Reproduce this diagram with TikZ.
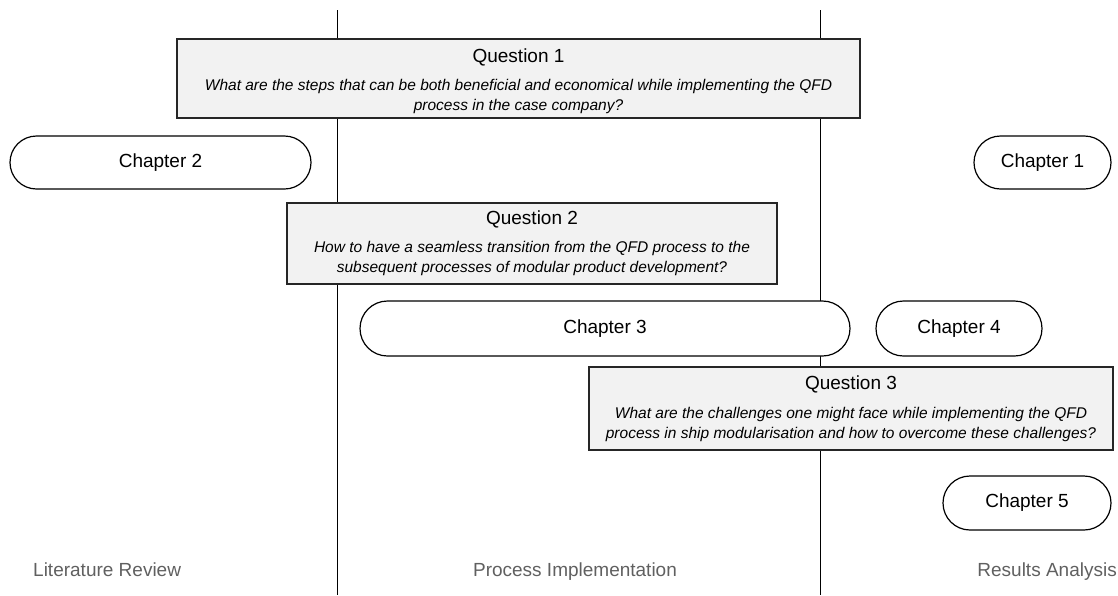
\documentclass[tikz,border=0pt]{standalone}
\usepackage{fontspec}
\setmainfont{Liberation Sans}
\usetikzlibrary{shapes.misc}
\definecolor{boxfill}{HTML}{F2F2F2}
\definecolor{phasegray}{HTML}{606060}
\tikzset{
  divider/.style={draw=black, line width=1pt},
  qbox/.style={draw=black!85, fill=boxfill, line width=1.2pt, rectangle, inner sep=0pt},
  qhead/.style={font=\fontsize{19}{22}\selectfont, inner sep=0pt},
  qtext/.style={font=\fontsize{15.5}{20}\selectfont\itshape, align=center, inner sep=0pt},
  chapter/.style={draw=black, fill=white, line width=1.2pt, rounded rectangle, inner sep=0pt,
                  font=\fontsize{19}{22}\selectfont},
  phase/.style={text=phasegray, font=\fontsize{19}{22}\selectfont, inner sep=0pt}
}
\begin{document}
\begin{tikzpicture}[x=1pt, y=-1pt]
\useasboundingbox (0,0) rectangle (1118,595);
% phase dividers
\coordinate (d1top) at (337,10);
\coordinate (d1bot) at (337,595);
\coordinate (d2top) at (820,10);
\coordinate (d2bot) at (820,595);
\draw[divider] (d1top) -- (d1bot);
\draw[divider] (d2top) -- (d2bot);

% research questions
\node[qbox, minimum width=683pt, minimum height=79pt] (q1) at (518.5,78.5) {};
\node[qhead] (q1h) at (518.5,57) {Question 1};
\node[qtext] (q1t) at (518.5,96) {What are the steps that can be both beneficial and economical while implementing the QFD\\process in the case company?};

\node[qbox, minimum width=490pt, minimum height=81pt] (q2) at (532,243.5) {};
\node[qhead] (q2h) at (532,219) {Question 2};
\node[qtext] (q2t) at (532,258) {How to have a seamless transition from the QFD process to the\\subsequent processes of modular product development?};

\node[qbox, minimum width=524pt, minimum height=83pt] (q3) at (851,408.5) {};
\node[qhead] (q3h) at (851,384) {Question 3};
\node[qtext] (q3t) at (851,424) {What are the challenges one might face while implementing the QFD\\process in ship modularisation and how to overcome these challenges?};

% chapters
\node[chapter, minimum width=301pt, minimum height=53pt] (ch2) at (160.5,162.5) {Chapter 2};
\node[chapter, minimum width=137pt, minimum height=53pt] (ch1) at (1042.5,162.5) {Chapter 1};
\node[chapter, minimum width=490pt, minimum height=55pt] (ch3) at (605,328.5) {Chapter 3};
\node[chapter, minimum width=166pt, minimum height=55pt] (ch4) at (959,328.5) {Chapter 4};
\node[chapter, minimum width=168pt, minimum height=54pt] (ch5) at (1027,503) {Chapter 5};

% phases
\node[phase, anchor=base west] (lit) at (33,576) {Literature Review};
\node[phase, anchor=base] (proc) at (575,576) {Process Implementation};
\node[phase, anchor=base east] (res) at (1117,576) {Results Analysis};
\end{tikzpicture}
\end{document}
